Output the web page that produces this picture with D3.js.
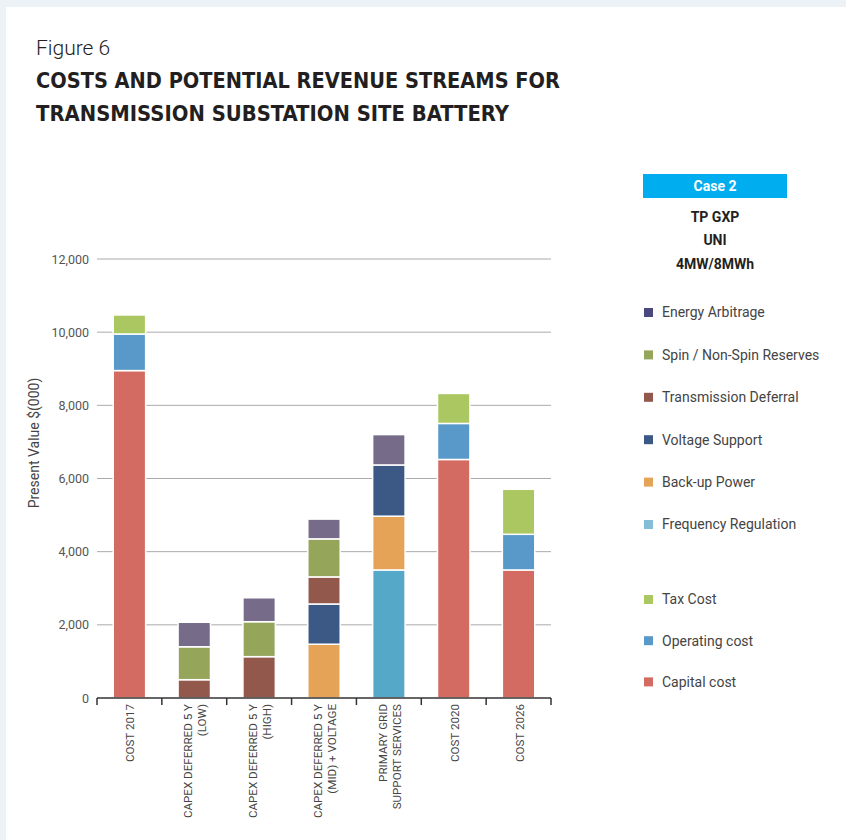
<!DOCTYPE html>
<html>
<head>
<meta charset="utf-8">
<script src="https://cdn.jsdelivr.net/npm/d3@7"></script>
<style>
  html, body { margin: 0; padding: 0; background: #edf2f6; }
  svg { display: block; }
</style>
</head>
<body>
<svg id="chart" width="846" height="840"></svg>
<script>
// Scenario categories (line breaks split the axis labels)
const categories = [
  "COST 2017",
  "CAPEX DEFERRED 5 Y\n(LOW)",
  "CAPEX DEFERRED 5 Y\n(HIGH)",
  "CAPEX DEFERRED 5 Y\n(MID) + VOLTAGE",
  "PRIMARY GRID\nSUPPORT SERVICES",
  "COST 2020",
  "COST 2026"
];

// Present value $(000) per series, stacked bottom to top in this order
const capitalCost          = [8950,   0,    0,    0,    0, 6520, 3500];
const operatingCost        = [1000,   0,    0,    0,    0,  985,  975];
const taxCost              = [ 520,   0,    0,    0,    0,  820, 1230];
const frequencyRegulation  = [   0,   0,    0,    0, 3500,    0,    0];
const backupPower          = [   0,   0,    0, 1470, 1470,    0,    0];
const voltageSupport       = [   0,   0,    0, 1100, 1400,    0,    0];
const transmissionDeferral = [   0, 500, 1130,  740,    0,    0,    0];
const spinReserves         = [   0, 900,  955, 1040,    0,    0,    0];
const energyArbitrage      = [   0, 670,  655,  540,  830,    0,    0];

const seriesNames = [
  "Capital cost", "Operating cost", "Tax Cost", "Frequency Regulation",
  "Back-up Power", "Voltage Support", "Transmission Deferral",
  "Spin / Non-Spin Reserves", "Energy Arbitrage"
];
const seriesValues = [
  capitalCost, operatingCost, taxCost, frequencyRegulation, backupPower,
  voltageSupport, transmissionDeferral, spinReserves, energyArbitrage
];

const yTicks = [0, 2000, 4000, 6000, 8000, 10000, 12000];

// Legend groups, top to bottom
const revenueLegend = ["Energy Arbitrage", "Spin / Non-Spin Reserves", "Transmission Deferral",
  "Voltage Support", "Back-up Power", "Frequency Regulation"];
const costLegend = ["Tax Cost", "Operating cost", "Capital cost"];

const caseTitle = "Case 2";
const caseLines = ["TP GXP", "UNI", "4MW/8MWh"];

// Colours
const barColor = {
  "Capital cost": "#d36b62",
  "Operating cost": "#5899c9",
  "Tax Cost": "#aac761",
  "Frequency Regulation": "#55a8c8",
  "Back-up Power": "#e5a357",
  "Voltage Support": "#3b5984",
  "Transmission Deferral": "#93584c",
  "Spin / Non-Spin Reserves": "#95a65b",
  "Energy Arbitrage": "#766c89"
};
const legendColor = Object.assign({}, barColor, {
  "Energy Arbitrage": "#4b487e",
  "Frequency Regulation": "#84bdd8"
});

const svg = d3.select("#chart");
const bodyFont = "Roboto, 'Liberation Sans', sans-serif";

// White page panel inside the light frame
svg.append("rect").attr("x", 6).attr("y", 7).attr("width", 840).attr("height", 833).attr("fill", "#ffffff");

// Headings
svg.append("text").attr("x", 36).attr("y", 55)
  .style("font-family", bodyFont)
  .style("font-weight", 300).style("font-size", "21px").attr("fill", "#222")
  .text("Figure 6");

const titleLines = ["COSTS AND POTENTIAL REVENUE STREAMS FOR", "TRANSMISSION SUBSTATION SITE BATTERY"];
const titleWidths = [524, 473];
titleLines.forEach((t, i) => {
  svg.append("text").attr("x", 36).attr("y", 88 + i * 33)
    .attr("textLength", titleWidths[i]).attr("lengthAdjust", "spacingAndGlyphs")
    .style("font-family", "'Liberation Sans Narrow', 'DejaVu Sans Condensed', sans-serif")
    .style("font-weight", 700).style("font-size", "21px").attr("fill", "#231f20")
    .text(t);
});

// Scales
const x = d3.scaleBand().domain(d3.range(categories.length))
  .range([97, 551]).paddingInner(0.5).paddingOuter(0.25);
const y = d3.scaleLinear().domain([0, 12000]).range([698, 259]);

// Gridlines and y tick labels
const yAxis = d3.axisLeft(y).tickValues(yTicks).tickFormat(d3.format(",")).tickSize(0).tickPadding(8);
const yg = svg.append("g").attr("transform", "translate(97,0)").call(yAxis);
yg.select(".domain").remove();
yg.selectAll("text")
  .style("font-family", bodyFont)
  .style("font-size", "12.5px").attr("fill", "#555");

svg.append("g").selectAll("line").data(yTicks.filter(d => d > 0)).join("line")
  .attr("x1", 97).attr("x2", 551)
  .attr("y1", d => y(d)).attr("y2", d => y(d))
  .attr("stroke", "#aaaaaa").attr("stroke-width", 1);

// Stacked bars
const table = categories.map((c, i) => {
  const row = { index: i };
  seriesNames.forEach((s, k) => { row[s] = seriesValues[k][i]; });
  return row;
});
const stacked = d3.stack().keys(seriesNames)(table);

svg.append("g").selectAll("g").data(stacked).join("g")
  .attr("fill", d => barColor[d.key])
  .selectAll("rect").data(d => d.filter(p => p[1] - p[0] > 0)).join("rect")
  .attr("x", d => x(d.data.index))
  .attr("width", x.bandwidth())
  .attr("y", d => y(d[1]))
  .attr("height", d => y(d[0]) - y(d[1]))
  .attr("stroke", "#ffffff").attr("stroke-width", 1.5);

// X axis line with ticks on the category boundaries
const half = (x.step() - x.bandwidth()) / 2;
const bounds = d3.range(categories.length + 1).map(i =>
  i < categories.length ? x(i) - half : x(categories.length - 1) + x.bandwidth() + half);
svg.append("line").attr("x1", bounds[0]).attr("x2", bounds[bounds.length - 1])
  .attr("y1", y(0)).attr("y2", y(0)).attr("stroke", "#333").attr("stroke-width", 1.5);
svg.append("g").selectAll("line").data(bounds).join("line")
  .attr("x1", d => d).attr("x2", d => d)
  .attr("y1", y(0)).attr("y2", y(0) + 7)
  .attr("stroke", "#333").attr("stroke-width", 1.5);

// Rotated category labels
categories.forEach((c, i) => {
  const lines = c.split("\n");
  const cx = x(i) + x.bandwidth() / 2 + 1;
  lines.forEach((ln, j) => {
    const off = (j - (lines.length - 1) / 2) * 14;
    svg.append("text")
      .attr("transform", `translate(${cx + off},${y(0) + 6}) rotate(-90)`)
      .attr("text-anchor", "end").attr("dy", "0.35em")
      .style("font-family", bodyFont)
      .style("font-size", "11.6px").attr("fill", "#444")
      .text(ln);
  });
});

// Y axis title
svg.append("text").attr("transform", "translate(34,443) rotate(-90)")
  .attr("text-anchor", "middle").attr("dy", "0.35em")
  .style("font-family", bodyFont)
  .style("font-size", "14px").attr("fill", "#444")
  .text("Present Value $(000)");

// Case heading box
svg.append("rect").attr("x", 643).attr("y", 174).attr("width", 144).attr("height", 24).attr("fill", "#00aeef");
svg.append("text").attr("x", 715).attr("y", 186).attr("dy", "0.35em").attr("text-anchor", "middle")
  .style("font-family", bodyFont)
  .style("font-weight", 700).style("font-size", "14px").attr("fill", "#ffffff")
  .text(caseTitle);
caseLines.forEach((t, i) => {
  svg.append("text").attr("x", 715).attr("y", 217 + i * 23.5).attr("dy", "0.35em").attr("text-anchor", "middle")
    .style("font-family", bodyFont)
    .style("font-weight", 700).style("font-size", "14px").attr("fill", "#231f20")
    .text(t);
});

// Legend
function legendRow(name, cy) {
  const g = svg.append("g");
  g.append("rect").attr("x", 644).attr("y", cy - 4.5).attr("width", 9).attr("height", 9)
    .attr("fill", legendColor[name]);
  g.append("text").attr("x", 662).attr("y", cy).attr("dy", "0.35em")
    .style("font-family", bodyFont)
    .style("font-size", "14px").attr("fill", "#444")
    .text(name);
}
revenueLegend.forEach((n, i) => legendRow(n, 312.5 + i * 42.4));
costLegend.forEach((n, i) => legendRow(n, 599.5 + i * 41.2));
</script>
</body>
</html>
